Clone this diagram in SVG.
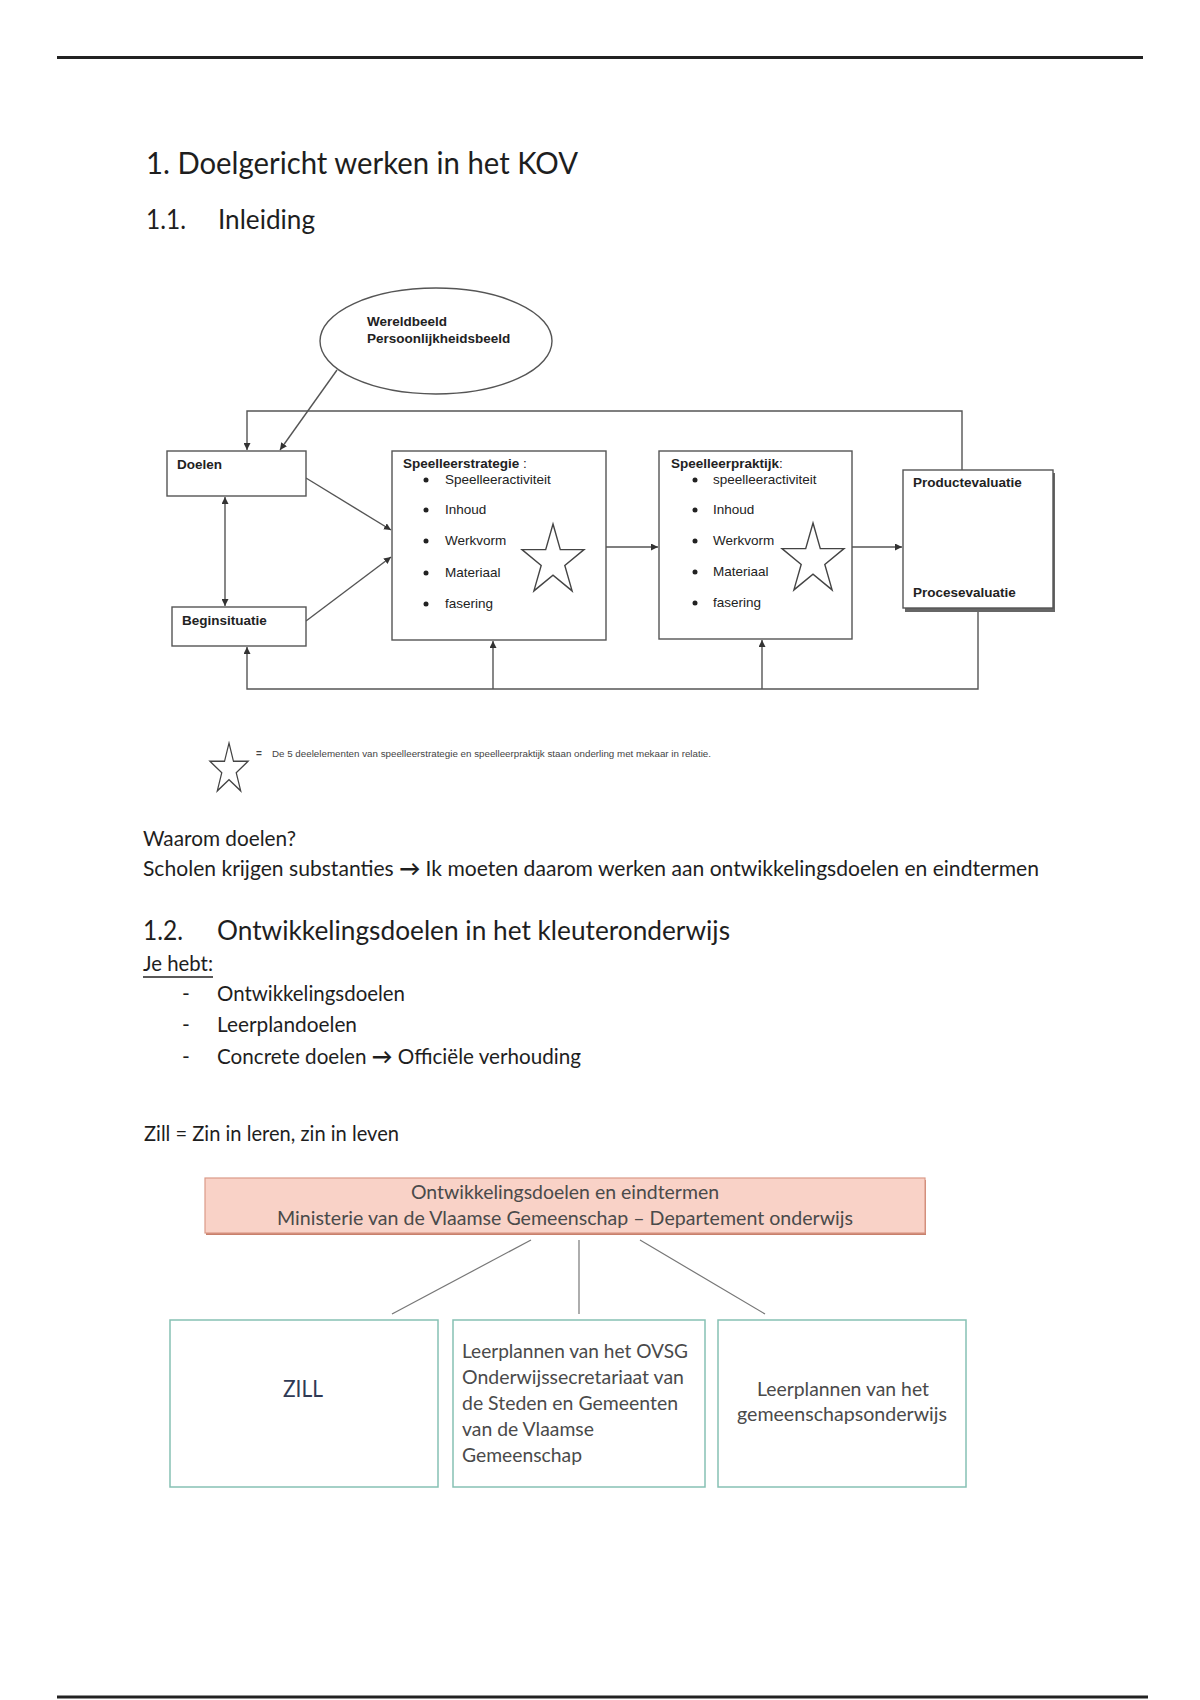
<svg xmlns="http://www.w3.org/2000/svg" width="1200" height="1700" viewBox="0 0 1200 1700">
<style>
.doc{font-family:Lato,"Open Sans","Liberation Sans",sans-serif;fill:#1e1e1e}
.h1{font-size:30px}
.h2{font-size:27px}
.body{font-size:21px}
.dg{font-family:"Liberation Sans",Arial,sans-serif;font-size:13.5px;fill:#222}
.b{font-weight:bold}
.box{fill:#fff;stroke:#555;stroke-width:1.4}
.ln{fill:none;stroke:#555;stroke-width:1.4}
.star{fill:#fff;stroke:#444;stroke-width:1.4}
.org{font-family:Lato,"Open Sans","Liberation Sans",sans-serif;font-size:19px;fill:#4a4a4a}
.tbox{fill:#fff;stroke:#86c1b4;stroke-width:1.5}
.oln{fill:none;stroke:#777;stroke-width:1.2}
.leg{font-family:"Liberation Sans",Arial,sans-serif;fill:#444}
</style>
<defs>
<marker id="ah" viewBox="0 0 10 10" refX="10" refY="5" markerWidth="7" markerHeight="7" markerUnits="userSpaceOnUse" orient="auto-start-reverse">
<path d="M0,0 L10,5 L0,10 Z" fill="#333"/>
</marker>
<path id="starShape" d="M0,-37 L7.3,-11.4 L31,-11.4 L11.8,4.4 L19.1,29.9 L0,14.1 L-19.1,29.9 L-11.8,4.4 L-31,-11.4 L-7.3,-11.4 Z"/>
</defs>
<rect width="1200" height="1700" fill="#fff"/>
<line x1="57" y1="57.5" x2="1143" y2="57.5" stroke="#222" stroke-width="3"/>
<line x1="57" y1="1697" x2="1148" y2="1697" stroke="#222" stroke-width="3"/>

<g id="headings" class="doc">
<text class="h1" x="146" y="174" textLength="432" lengthAdjust="spacingAndGlyphs">1. Doelgericht werken in het KOV</text>
<text class="h2" x="146" y="229" textLength="40" lengthAdjust="spacingAndGlyphs">1.1.</text>
<text class="h2" x="218" y="229" textLength="97" lengthAdjust="spacingAndGlyphs">Inleiding</text>
</g>

<g id="connectors">
<path class="ln" d="M962,470 V411 H247 V450" marker-end="url(#ah)"/>
<path class="ln" d="M337,370 L280,450" marker-end="url(#ah)"/>
<path class="ln" d="M225,497 V606" marker-start="url(#ah)" marker-end="url(#ah)"/>
<path class="ln" d="M306,478 L391,530" marker-end="url(#ah)"/>
<path class="ln" d="M306,621 L391,557" marker-end="url(#ah)"/>
<path class="ln" d="M606,547 H658" marker-end="url(#ah)"/>
<path class="ln" d="M852,547 H902" marker-end="url(#ah)"/>
<path class="ln" d="M978,611 V689 H247 V647" marker-end="url(#ah)"/>
<path class="ln" d="M493,689 V641" marker-end="url(#ah)"/>
<path class="ln" d="M762,689 V640" marker-end="url(#ah)"/>
</g>

<g id="wereldbeeld">
<ellipse cx="436" cy="341" rx="116" ry="53" class="box"/>
<text class="dg b" x="367" y="326">Wereldbeeld</text>
<text class="dg b" x="367" y="343">Persoonlijkheidsbeeld</text>
</g>

<g id="doelen">
<rect x="167" y="451" width="139" height="45" class="box"/>
<text class="dg b" x="177" y="469">Doelen</text>
</g>

<g id="beginsituatie">
<rect x="172" y="607" width="134" height="39" class="box"/>
<text class="dg b" x="182" y="625">Beginsituatie</text>
</g>

<g id="speelleerstrategie">
<rect x="392" y="451" width="214" height="189" class="box"/>
<text class="dg b" x="403" y="468">Speelleerstrategie <tspan font-weight="normal">:</tspan></text>
<g fill="#222">
<circle cx="426" cy="480" r="2.5"/><circle cx="426" cy="510" r="2.5"/><circle cx="426" cy="541" r="2.5"/><circle cx="426" cy="573" r="2.5"/><circle cx="426" cy="604" r="2.5"/>
</g>
<text class="dg" x="445" y="484">Speelleeractiviteit</text>
<text class="dg" x="445" y="514">Inhoud</text>
<text class="dg" x="445" y="545">Werkvorm</text>
<text class="dg" x="445" y="577">Materiaal</text>
<text class="dg" x="445" y="608">fasering</text>
<use href="#starShape" class="star" transform="translate(553,561)"/>
</g>

<g id="speelleerpraktijk">
<rect x="659" y="451" width="193" height="188" class="box"/>
<text class="dg b" x="671" y="468">Speelleerpraktijk<tspan font-weight="normal">:</tspan></text>
<g fill="#222">
<circle cx="695" cy="480" r="2.5"/><circle cx="695" cy="510" r="2.5"/><circle cx="695" cy="541" r="2.5"/><circle cx="695" cy="572" r="2.5"/><circle cx="695" cy="603" r="2.5"/>
</g>
<text class="dg" x="713" y="484">speelleeractiviteit</text>
<text class="dg" x="713" y="514">Inhoud</text>
<text class="dg" x="713" y="545">Werkvorm</text>
<text class="dg" x="713" y="576">Materiaal</text>
<text class="dg" x="713" y="607">fasering</text>
<use href="#starShape" class="star" transform="translate(813,560)"/>
</g>

<g id="evaluatie">
<rect x="905" y="473" width="150" height="139" fill="#666"/>
<rect x="903" y="470" width="150" height="138" class="box"/>
<text class="dg b" x="913" y="487">Productevaluatie</text>
<text class="dg b" x="913" y="597">Procesevaluatie</text>
</g>

<g id="legende">
<use href="#starShape" class="star" vector-effect="non-scaling-stroke" transform="translate(229,769.5) scale(0.613,0.716)" style="stroke-width:2"/>
<text class="leg" x="256" y="757" font-size="10" font-weight="bold">=</text>
<text class="leg" x="272" y="757" font-size="8.5" textLength="439" lengthAdjust="spacingAndGlyphs">De 5 deelelementen van speelleerstrategie en speelleerpraktijk staan onderling met mekaar in relatie.</text>
</g>

<g id="tekst" class="doc">
<text class="body" x="143" y="846" textLength="153" lengthAdjust="spacingAndGlyphs">Waarom doelen?</text>
<text class="body" x="143" y="876" textLength="896" lengthAdjust="spacingAndGlyphs">Scholen krijgen substanties <tspan font-weight="bold">→</tspan> Ik moeten daarom werken aan ontwikkelingsdoelen en eindtermen</text>
<text class="h2" x="143" y="940" textLength="40" lengthAdjust="spacingAndGlyphs">1.2.</text>
<text class="h2" x="217" y="940" textLength="513" lengthAdjust="spacingAndGlyphs">Ontwikkelingsdoelen in het kleuteronderwijs</text>
<text class="body" x="143" y="971" textLength="70" lengthAdjust="spacingAndGlyphs">Je hebt:</text>
<line x1="143" y1="977" x2="213" y2="977" stroke="#222" stroke-width="1.5"/>
<text class="body" x="182" y="1001">-</text>
<text class="body" x="182" y="1032">-</text>
<text class="body" x="182" y="1064">-</text>
<text class="body" x="217" y="1001" textLength="188" lengthAdjust="spacingAndGlyphs">Ontwikkelingsdoelen</text>
<text class="body" x="217" y="1032" textLength="140" lengthAdjust="spacingAndGlyphs">Leerplandoelen</text>
<text class="body" x="217" y="1064" textLength="364" lengthAdjust="spacingAndGlyphs">Concrete doelen <tspan font-weight="bold">→</tspan> Officiële verhouding</text>
<text class="body" x="144" y="1141" textLength="255" lengthAdjust="spacingAndGlyphs">Zill = Zin in leren, zin in leven</text>
</g>

<g id="org-connectors">
<line class="oln" x1="531" y1="1240" x2="392" y2="1314"/>
<line class="oln" x1="579" y1="1240" x2="579" y2="1314"/>
<line class="oln" x1="640" y1="1240" x2="765" y2="1314"/>
</g>

<g id="ministerie">
<rect x="206" y="1180" width="720" height="55" fill="#c8806c"/>
<rect x="205" y="1178" width="720" height="55" fill="#f9d2c7" stroke="#db9a88" stroke-width="1.2"/>
<text class="org" x="565" y="1199" text-anchor="middle" textLength="308" lengthAdjust="spacingAndGlyphs">Ontwikkelingsdoelen en eindtermen</text>
<text class="org" x="565" y="1225" text-anchor="middle" textLength="576" lengthAdjust="spacingAndGlyphs">Ministerie van de Vlaamse Gemeenschap – Departement onderwijs</text>
</g>

<g id="zill">
<rect x="170" y="1320" width="268" height="167" class="tbox"/>
<text class="org" x="303" y="1397" text-anchor="middle" textLength="40" lengthAdjust="spacingAndGlyphs" style="font-size:24px;fill:#2f3a55">ZILL</text>
</g>

<g id="ovsg">
<rect x="453" y="1320" width="252" height="167" class="tbox"/>
<text class="org" x="462" y="1358" textLength="226" lengthAdjust="spacingAndGlyphs">Leerplannen van het OVSG</text>
<text class="org" x="462" y="1384" textLength="222" lengthAdjust="spacingAndGlyphs">Onderwijssecretariaat van</text>
<text class="org" x="462" y="1410" textLength="216" lengthAdjust="spacingAndGlyphs">de Steden en Gemeenten</text>
<text class="org" x="462" y="1436" textLength="132" lengthAdjust="spacingAndGlyphs">van de Vlaamse</text>
<text class="org" x="462" y="1462" textLength="120" lengthAdjust="spacingAndGlyphs">Gemeenschap</text>
</g>

<g id="gemeenschapsonderwijs">
<rect x="718" y="1320" width="248" height="167" class="tbox"/>
<text class="org" x="843" y="1396" text-anchor="middle" textLength="172" lengthAdjust="spacingAndGlyphs">Leerplannen van het</text>
<text class="org" x="842" y="1421" text-anchor="middle" textLength="210" lengthAdjust="spacingAndGlyphs">gemeenschapsonderwijs</text>
</g>
</svg>
